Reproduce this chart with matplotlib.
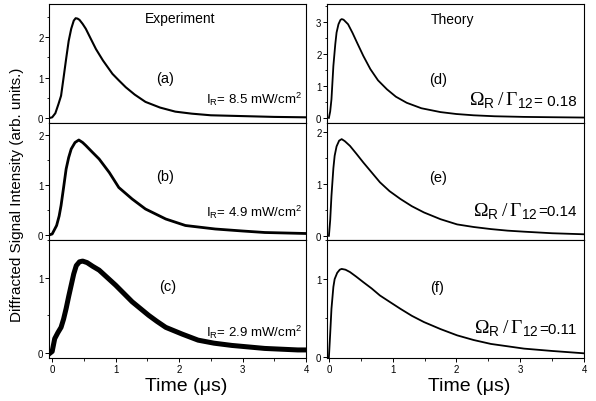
import matplotlib
matplotlib.use('Agg')
import matplotlib.pyplot as plt
from matplotlib.ticker import MultipleLocator

plt.rcParams['font.family'] = ['Liberation Sans', 'DejaVu Sans']
plt.rcParams['mathtext.fontset'] = 'custom'
plt.rcParams['mathtext.rm'] = 'Liberation Serif'
plt.rcParams['mathtext.sf'] = 'Liberation Sans'

# ---- experiment (left column) ----
t_a = [-0.05, 0.0, 0.05, 0.1, 0.14, 0.18, 0.22, 0.26, 0.3, 0.34, 0.37, 0.4, 0.43,
       0.48, 0.53, 0.6, 0.69, 0.8, 0.95, 1.05, 1.16, 1.3, 1.47, 1.7, 1.94, 2.2,
       2.5, 3.0, 3.5, 4.0]
y_a = [0.0, 0.02, 0.12, 0.35, 0.55, 1.0, 1.46, 1.9, 2.2, 2.4, 2.46, 2.45, 2.42,
       2.32, 2.2, 1.98, 1.7, 1.42, 1.09, 0.93, 0.76, 0.58, 0.40, 0.26, 0.16, 0.11,
       0.07, 0.05, 0.03, 0.02]

t_b = [-0.05, 0.0, 0.07, 0.11, 0.14, 0.18, 0.22, 0.26, 0.3, 0.36, 0.42, 0.48, 0.53,
       0.63, 0.74, 0.9, 1.05, 1.26, 1.47, 1.79, 2.1, 2.57, 3.0, 3.35, 4.0]
y_b = [0.0, 0.02, 0.19, 0.38, 0.59, 0.95, 1.32, 1.55, 1.72, 1.85, 1.9, 1.85, 1.79,
       1.66, 1.52, 1.25, 0.95, 0.72, 0.52, 0.32, 0.19, 0.12, 0.08, 0.05, 0.03]

t_c = [-0.03, 0.0, 0.04, 0.09, 0.14, 0.18, 0.22, 0.26, 0.3, 0.34, 0.38, 0.43, 0.48,
       0.55, 0.64, 0.74, 0.87, 1.0, 1.13, 1.26, 1.39, 1.52, 1.65, 1.79, 2.05, 2.3,
       2.55, 2.83, 3.35, 3.87, 4.0]
y_c = [0.0, 0.02, 0.19, 0.27, 0.34, 0.45, 0.59, 0.75, 0.9, 1.05, 1.16, 1.21, 1.22,
       1.2, 1.15, 1.1, 1.0, 0.9, 0.79, 0.68, 0.59, 0.5, 0.42, 0.34, 0.25, 0.17,
       0.13, 0.1, 0.06, 0.04, 0.04]

# ---- theory (right column) ----
t_d = [0.0, 0.02, 0.04, 0.07, 0.1, 0.12, 0.15, 0.18, 0.2, 0.23, 0.26, 0.3, 0.37,
       0.44, 0.54, 0.65, 0.77, 0.91, 1.05, 1.22, 1.45, 1.75, 2.0, 2.27, 2.6, 3.06,
       3.5, 4.0]
y_d = [0.0, 0.2, 0.58, 1.62, 2.3, 2.66, 2.92, 3.05, 3.08, 3.06, 3.0, 2.92, 2.65,
       2.35, 1.93, 1.52, 1.17, 0.89, 0.66, 0.47, 0.3, 0.18, 0.12, 0.08, 0.05, 0.03,
       0.02, 0.01]

t_e = [0.0, 0.02, 0.04, 0.07, 0.09, 0.12, 0.16, 0.2, 0.25, 0.33, 0.43, 0.54, 0.67,
       0.8, 0.95, 1.12, 1.3, 1.49, 1.75, 2.01, 2.27, 2.54, 2.8, 3.06, 3.5, 4.0]
y_e = [0.0, 0.3, 0.77, 1.3, 1.54, 1.72, 1.83, 1.86, 1.82, 1.73, 1.58, 1.41, 1.22,
       1.03, 0.86, 0.71, 0.57, 0.45, 0.32, 0.22, 0.17, 0.13, 0.1, 0.08, 0.05, 0.03]

t_f = [0.0, 0.02, 0.04, 0.07, 0.09, 0.13, 0.17, 0.2, 0.26, 0.33, 0.43, 0.54, 0.67,
       0.8, 0.95, 1.12, 1.3, 1.49, 1.75, 2.01, 2.27, 2.54, 2.8, 3.06, 3.5, 4.0]
y_f = [0.0, 0.3, 0.62, 0.9, 1.0, 1.08, 1.12, 1.13, 1.12, 1.09, 1.03, 0.96, 0.88,
       0.79, 0.71, 0.62, 0.53, 0.45, 0.36, 0.28, 0.22, 0.17, 0.14, 0.11, 0.08, 0.05]

labels_left = ['(a)', '(b)', '(c)']
labels_right = ['(d)', '(e)', '(f)']
intensity = ['8.5', '4.9', '2.9']
ratio = ['= 0.18', '=0.14', '=0.11']

fig = plt.figure(figsize=(5.96, 4.02), dpi=100, facecolor='w')

W, H = 596.0, 402.0
rows = [(5, 124), (124, 241), (241, 359)]
cols = [(49, 306), (327, 584)]

def make_ax(col, row):
  x0, x1 = cols[col]
  y0, y1 = rows[row]
  ax = fig.add_axes([x0 / W, 1 - y1 / H, (x1 - x0) / W, (y1 - y0) / H])
  for s in ax.spines.values():
    s.set_linewidth(0.8)
  ax.xaxis.set_major_locator(MultipleLocator(1))
  ax.xaxis.set_minor_locator(MultipleLocator(0.5))
  ax.yaxis.set_major_locator(MultipleLocator(1))
  ax.yaxis.set_minor_locator(MultipleLocator(0.5))
  ax.tick_params(which='major', direction='out', length=3, width=0.7,
                 labelsize=7, pad=1)
  ax.tick_params(which='minor', direction='out', length=1.8, width=0.6)
  if row < 2:
    ax.tick_params(axis='x', labelbottom=False)
  return ax

exp_t = [t_a, t_b, t_c]
exp_y = [y_a, y_b, y_c]
exp_lw = [1.5, 2.0, 3.6]
exp_ylim = [(-0.12, 2.81), (-0.1, 2.24), (-0.067, 1.5)]
lab_pos_l = [(0.451, 0.378), (0.451, 0.547), (0.463, 0.61)]
ir_pos = [0.21, 0.248, 0.229]

th_t = [t_d, t_e, t_f]
th_y = [y_d, y_e, y_f]
th_ylim = [(-0.16, 3.55), (-0.08, 2.17), (-0.01, 1.5)]
lab_pos_r = [(0.432, 0.37), (0.432, 0.538), (0.428, 0.60)]
om_base = [0.155, 0.21, 0.215]

for i in range(3):
  ax = make_ax(0, i)
  ax.plot(exp_t[i], exp_y[i], color='black', lw=exp_lw[i],
          solid_joinstyle='round')
  ax.set_xlim(-0.05, 4.0)
  ax.set_ylim(exp_ylim[i])
  ax.text(lab_pos_l[i][0], lab_pos_l[i][1], labels_left[i], transform=ax.transAxes,
          ha='center', va='center', fontsize=10.5)
  ax.text(0.985, ir_pos[i], r'I$_{\mathsf{R}}$= ' + intensity[i] + r' mW/cm$^{\mathsf{2}}$',
          transform=ax.transAxes, ha='right', va='center', fontsize=9.5)
  if i == 0:
    ax.text(0.51, 0.88, 'Experiment', transform=ax.transAxes,
            ha='center', va='center', fontsize=10)

  ax = make_ax(1, i)
  ax.plot(th_t[i], th_y[i], color='black', lw=1.3)
  ax.set_xlim(-0.03, 4.0)
  ax.set_ylim(th_ylim[i])
  ax.text(lab_pos_r[i][0], lab_pos_r[i][1], labels_right[i], transform=ax.transAxes,
          ha='center', va='center', fontsize=10.5)
  num = ax.text(0.97, om_base[i], ratio[i], transform=ax.transAxes,
                ha='right', va='baseline', fontsize=11)
  ax.annotate(r'$\Omega_{\mathsf{R}}\,/\,\Gamma_{\mathsf{12}}$',
              xy=(0, om_base[i]), xycoords=(num, 'axes fraction'),
              ha='right', va='baseline', fontsize=14)
  if i == 0:
    ax.text(0.49, 0.874, 'Theory', transform=ax.transAxes,
            ha='center', va='center', fontsize=10)

fig.text(186 / W, 1 - 387 / H, u'Time (\u03bcs)', ha='center', va='center', fontsize=14)
fig.text(469 / W, 1 - 387 / H, u'Time (\u03bcs)', ha='center', va='center', fontsize=14)
fig.text(17 / W, 1 - 195 / H, 'Diffracted Signal Intensity (arb. units.)',
         rotation=90, ha='center', va='center', fontsize=11)

fig.savefig('out.png', dpi=100)
